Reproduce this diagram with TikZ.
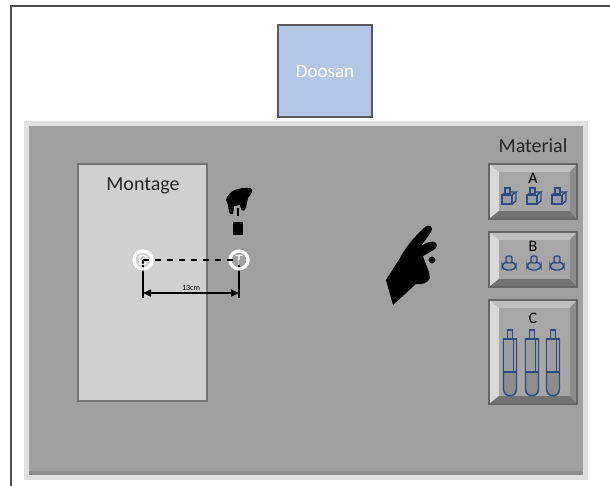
\documentclass[tikz,border=0pt]{standalone}
\usepackage{fontspec}
\setmainfont{Carlito}
\usetikzlibrary{arrows.meta}

\definecolor{panelgray}{HTML}{A0A0A0}
\definecolor{tablegray}{HTML}{D0D0D0}
\definecolor{doosanblue}{HTML}{B4C7E7}
\definecolor{partblue}{HTML}{2F4A80}
\definecolor{partfill}{HTML}{9A9EA6}

\tikzset{
  frame/.style={draw=black!70, line width=1.4},
  station/.style={draw=black!55, line width=0.9, fill=tablegray},
  pin/.style={draw=white, line width=1.6},
  part/.style={draw=partblue, line width=0.7, fill=partfill},
  lbl/.style={font=\fontsize{10}{12}\selectfont, text=black!85},
}

% bevelled tray: x1, y1, x2, y2
\newcommand\tray[4]{%
  \fill[black!25!white] (#1,#2) -- (#3,#2) -- (#3-7,#2+8) -- (#1+10,#2+8) -- cycle;
  \fill[black!15!white] (#1,#2) -- (#1+10,#2+8) -- (#1+10,#4-8) -- (#1,#4) -- cycle;
  \fill[black!55!white] (#1,#4) -- (#1+10,#4-8) -- (#3-7,#4-8) -- (#3,#4) -- cycle;
  \fill[black!45!white] (#3,#2) -- (#3-7,#2+8) -- (#3-7,#4-8) -- (#3,#4) -- cycle;
  \fill[black!35!white] (#1+10,#2+8) rectangle (#3-7,#4-8);
  \draw[black!60, line width=0.8] (#1,#2) rectangle (#3,#4);
}
% part with square body
\newcommand\cubepart[2]{%
  \draw[part] (#1-7,#2-2) rectangle (#1+3,#2+7);
  \draw[part] (#1-7,#2-2) -- (#1-3,#2-5) -- (#1+7,#2-5) -- (#1+3,#2-2);
  \draw[part] (#1+3,#2+7) -- (#1+7,#2+4) -- (#1+7,#2-5);
  \draw[part] (#1-4,#2-3) rectangle (#1+1,#2-9);
}
% part with round base
\newcommand\roundpart[2]{%
  \draw[part, rounded corners=2.5] (#1-7,#2+6) rectangle (#1+7,#2-2);
  \draw[part, rounded corners=1] (#1-3,#2-1) rectangle (#1+3,#2-8);
}
% tube
\newcommand\tube[1]{%
  \draw[part] (#1-2.5,330) rectangle (#1+2.5,339);
  \draw[part, fill=black!45!white] (#1-6.5,339) -- (#1-6.5,389)
    .. controls (#1-6.5,398) and (#1+6.5,398) .. (#1+6.5,389) -- (#1+6.5,339) -- cycle;
  \fill[black!38!white] (#1-6.1,339.4) rectangle (#1+6.1,372);
  \draw[partblue, line width=0.7] (#1-6.5,339) rectangle (#1+6.5,372);
  \draw[partblue, line width=0.5] (#1+3,339) -- (#1+3,372);
}

\begin{document}
\begin{tikzpicture}[x=0.5pt, y=-0.5pt]
\useasboundingbox (0,0) rectangle (610,486);
\fill[white] (0,0) rectangle (610,486);

% outer frame
\draw[frame] (11,486) -- (11,6) -- (610,6);

% robot
\node[draw=black!65, line width=0.9, fill=doosanblue, minimum width=47pt, minimum height=46pt,
  text=white, font=\fontsize{9.5}{11}\selectfont] (doosan) at (325,71) {Doosan};

% cell floor
\draw[black!12, line width=3] (27,124) rectangle (585,477);
\fill[panelgray] (29,126) rectangle (583,475);
\fill[black!45!white] (29,471) rectangle (583,475);

% assembly table
\draw[station] (78,164) rectangle (207,401);
\node[lbl] (montage) at (143,186) {Montage};

% pin positions
\coordinate (D) at (143,260);
\coordinate (T) at (239,260);
\coordinate (Dlow) at (143,298);
\coordinate (Tlow) at (239,298);
\draw[black, line width=0.8] (D) -- (Dlow);
\draw[black, line width=0.8] (T) -- (Tlow);
\draw[pin] (D) circle (9);
\draw[pin] (T) circle (9);
\node[text=white, font=\fontsize{8}{9}\selectfont] (dlabel) at (D) {D};
\node[text=white, font=\fontsize{8}{9}\selectfont] (tlabel) at (T) {T};
\draw[black, dashed, line width=0.8] (D) -- (T);
\coordinate (Dm) at (143,293);
\coordinate (Tm) at (239,293);
\draw[{Triangle[length=4pt,width=3.5pt]}-{Triangle[length=4pt,width=3.5pt]}, line width=0.8] (Dm) -- node[above, inner sep=1pt, font=\fontsize{4}{5}\selectfont] {13cm} (Tm);

% small hand above the block
\fill[black] (226,200) .. controls (228,192) and (236,188) .. (245,188)
  -- (250,188) .. controls (253,189) and (253,192) .. (251,194)
  -- (248,198) -- (246,207) .. controls (245,211) and (243,212) .. (241,209)
  -- (240,205) -- (234,206) -- (233,214) .. controls (231,215) and (229,214) .. (229,212)
  -- (228,205) -- cycle;
\fill[black] (236.5,208) rectangle (238.5,216);
\fill[black] (233,222) rectangle (243,235);

% big hand
\fill[black] (386,280) -- (400,258) .. controls (405,248) and (415,236) .. (424,228)
  .. controls (429,223) and (434,226) .. (431,232)
  -- (421,246) .. controls (427,242) and (433,240) .. (436,243)
  .. controls (439,246) and (435,250) .. (430,252)
  -- (423,256) .. controls (426,266) and (430,272) .. (430,278)
  .. controls (428,283) and (422,285) .. (416,284)
  -- (393,305) -- cycle;
\fill[black] (432,260) circle (3.5);

% material stock
\node[lbl] (material) at (533,146) {Material};
\tray{489}{164}{577}{219}
\tray{489}{232}{577}{287}
\tray{489}{300}{577}{404}
\node[font=\fontsize{8}{9}\selectfont] (A) at (533,178) {A};
\node[font=\fontsize{8}{9}\selectfont] (B) at (533,246) {B};
\node[font=\fontsize{8}{9}\selectfont] (C) at (533,318) {C};
\cubepart{509}{197}
\cubepart{534}{197}
\cubepart{559}{197}
\roundpart{509}{264}
\roundpart{534}{264}
\roundpart{557}{264}
\tube{510}
\tube{532}
\tube{553}
\end{tikzpicture}
\end{document}
